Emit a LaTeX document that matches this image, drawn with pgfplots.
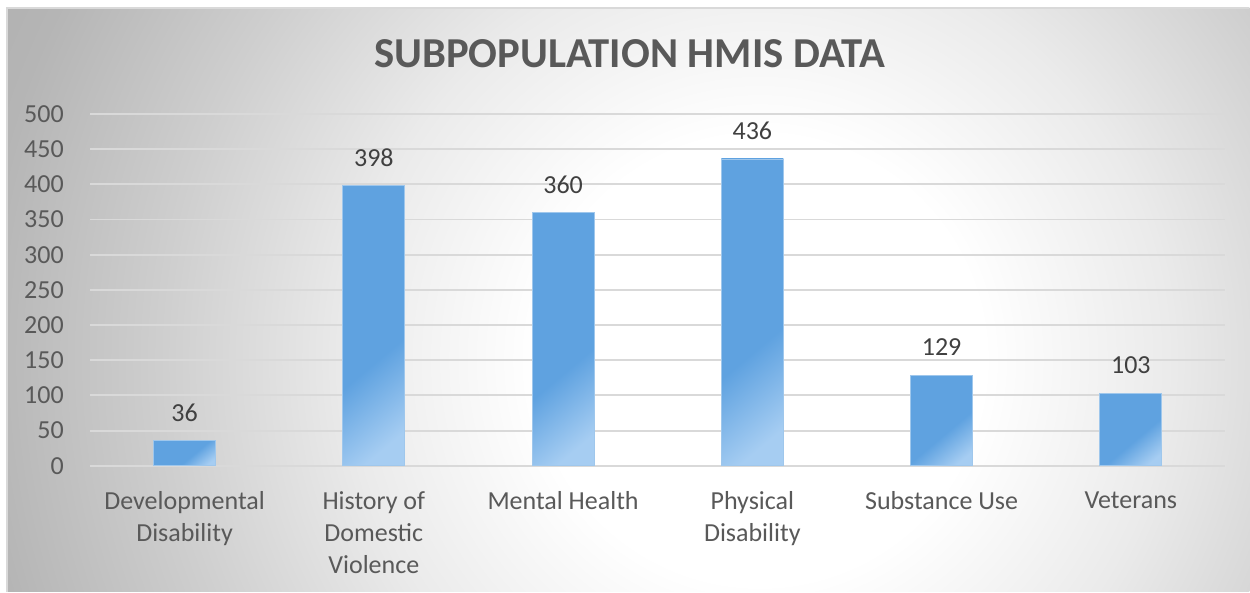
\documentclass[border=0pt]{standalone}
\usepackage{pgfplots}
\pgfplotsset{compat=1.18}
\usepackage{fontspec}
\setmainfont{Carlito}

\definecolor{txtgray}{HTML}{595959}
\definecolor{valgray}{HTML}{404040}
\definecolor{gridgray}{HTML}{D9D9D9}
\definecolor{barblue}{HTML}{5FA2E0}
\definecolor{barlight}{HTML}{A6CDF2}

% circular grey-to-white background
\pgfdeclareradialshading{chartbg}{\pgfpoint{0bp}{0bp}}{%
  color(0bp)=(white); color(6bp)=(white); color(11bp)=(black!8);
  color(16bp)=(black!19); color(21bp)=(black!29); color(27bp)=(black!34);
  color(50bp)=(black!36)}

% bar fill: dark blue, lighter towards the lower right corner
\pgfdeclareverticalshading{barshade}{100bp}{%
  color(0bp)=(barlight); color(22bp)=(barlight); color(42bp)=(barblue);
  color(100bp)=(barblue)}

\pgfplotsset{barstyle/.style={draw=barblue!60!white, line width=0.6pt,
  shading=barshade, shading angle=40}}

\begin{document}
\begin{tikzpicture}[x=1pt,y=1pt]
% page frame and chart background
\fill[white] (0,0) rectangle (937.5,444);
\begin{scope}
  \clip (5.25,0) rectangle (937.5,438);
  \shade[shading=chartbg] (570,174) circle (700);
\end{scope}
\draw[gridgray, line width=0.8pt] (5.25,0) -- (5.25,438) -- (937.5,438);

\node[anchor=base, font=\fontsize{32}{36}\selectfont\bfseries, text=txtgray]
  at (472.5,393) {SUBPOPULATION HMIS DATA};

\begin{axis}[
  at={(67.5pt,94.5pt)}, anchor=south west,
  scale only axis, width=852pt, height=264pt,
  xmin=-0.5, xmax=5.5, ymin=0, ymax=500,
  ytick={0,50,...,500},
  xtick={0,...,5},
  xticklabels={{Developmental\\Disability},{History of\\Domestic\\Violence},{Mental Health},{Physical\\Disability},{Substance Use},{Veterans}},
  axis line style={draw=none},
  major tick length=0pt,
  ymajorgrids, grid style={gridgray, line width=1.4pt},
  /pgf/number format/assume math mode=true,
  tick label style={font=\fontsize{19.5}{24}\selectfont, text=txtgray},
  yticklabel style={anchor=east, inner sep=0pt, xshift=-19.5pt},
  xticklabel style={anchor=north, align=center, inner sep=0pt, yshift=-19pt},
  ybar, bar width=46.5pt, bar shift=0pt,
  nodes near coords,
  every node near coord/.append style={font=\fontsize{19.5}{24}\selectfont, text=valgray, anchor=base, inner sep=0pt, yshift=14.5pt},
  clip=false,
]
\addplot[barstyle] coordinates {(0,36)};
\addplot[barstyle] coordinates {(1,398)};
\addplot[barstyle] coordinates {(2,360)};
\addplot[barstyle] coordinates {(3,436)};
\addplot[barstyle] coordinates {(4,129)};
\addplot[barstyle] coordinates {(5,103)};
\end{axis}
\end{tikzpicture}
\end{document}
